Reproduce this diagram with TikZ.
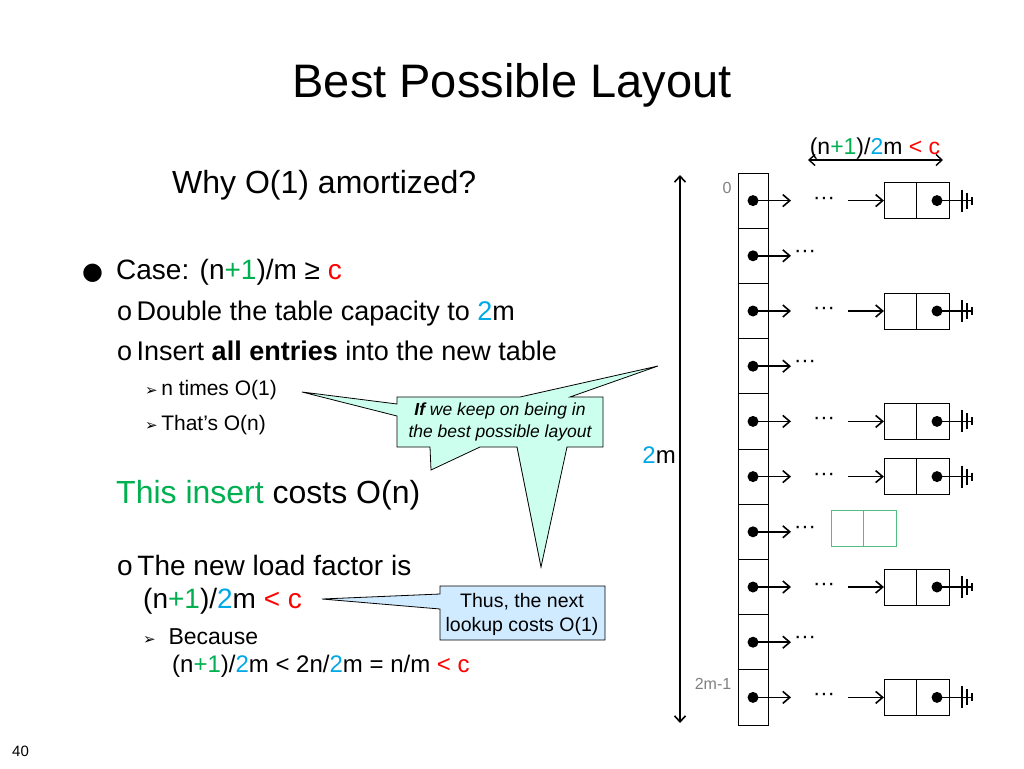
\documentclass[tikz,border=0pt]{standalone}
\usepackage{fontspec}
\setmainfont{Liberation Sans}
\newfontfamily\symf{DejaVu Sans}
\usetikzlibrary{arrows.meta}
\definecolor{cgreen}{RGB}{0,176,80}
\definecolor{cblue}{RGB}{0,168,230}
\definecolor{cred}{RGB}{255,0,0}
\definecolor{callA}{RGB}{204,255,238}
\definecolor{callB}{RGB}{208,234,255}
\definecolor{nodegreen}{RGB}{80,190,130}
\newcommand{\arrbul}{{\symf\fontsize{15}{18}\selectfont ➢}}
\newcommand{\mydots}{{\fontsize{22}{24}\selectfont\textperiodcentered\textperiodcentered\textperiodcentered}}
\tikzset{
  txt/.style={anchor=base west,inner sep=0pt},
  cell/.style={draw,line width=0.7pt,minimum width=30pt,minimum height=55.2pt,inner sep=0pt},
  ptr/.style={-{Straight Barb[length=7pt,width=12pt]},line width=1.6pt},
  dotc/.style={circle,fill,inner sep=0pt,minimum size=11pt},
  lbox/.style={draw,line width=0.7pt,minimum width=32.5pt,minimum height=36pt,inner sep=0pt},
  callout/.style={draw,line width=0.8pt},
  gray label/.style={text=gray,font=\fontsize{16}{18}\selectfont,inner sep=0pt}
}
\begin{document}
\begin{tikzpicture}[x=1pt,y=-1pt]
\useasboundingbox (0,0) rectangle (1024,768);
% title
\node[anchor=base,inner sep=0pt,font=\fontsize{47}{52}\selectfont] (title) at (512,97) {Best Possible Layout};
% left text
\node[txt,font=\fontsize{32}{36}\selectfont] (why) at (172,193) {Why O(1) amortized?};
\node[txt,font=\fontsize{28}{32}\selectfont] (b1) at (82,279) {{\symf\fontsize{24}{26}\selectfont ●}};
\node[txt,font=\fontsize{28}{32}\selectfont] (case) at (116,279) {Case: (n\textcolor{cgreen}{+1})/m ≥ \textcolor{cred}{c}};
\node[txt,font=\fontsize{27}{30}\selectfont] (d1) at (117,320) {o\,Double the table capacity to \textcolor{cblue}{2}m};
\node[txt,font=\fontsize{27}{30}\selectfont] (d2) at (117,360) {o\,Insert \textbf{all entries} into the new table};
\node[txt,font=\fontsize{21}{24}\selectfont] (e1) at (145,395) {\arrbul\,n times O(1)};
\node[txt,font=\fontsize{21}{24}\selectfont] (e2) at (145,430) {\arrbul\,That’s O(n)};
\node[txt,font=\fontsize{32}{36}\selectfont] (ins) at (116,503) {\textcolor{cgreen}{This insert} costs O(n)};
\node[txt,font=\fontsize{28}{32}\selectfont] (f1) at (117,575) {o\,The new load factor is};
\node[txt,font=\fontsize{28}{32}\selectfont] (f2) at (143,608) {(n\textcolor{cgreen}{+1})/\textcolor{cblue}{2}m \textcolor{cred}{< c}};
\node[txt,font=\fontsize{23}{26}\selectfont] (g1) at (143,644) {\arrbul\ \ Because};
\node[txt,font=\fontsize{24}{28}\selectfont] (g2) at (172,672) {(n\textcolor{cgreen}{+1})/\textcolor{cblue}{2}m < 2n/\textcolor{cblue}{2}m = n/m \textcolor{cred}{< c}};
\node[txt,font=\fontsize{15}{17}\selectfont] (pg) at (12,756) {40};
% callout 1
\draw[callout,fill=callA] (397,397) -- (520,397) -- (658,366) -- (570,397) -- (603,397) -- (603,447)
  -- (567,447) -- (541,567) -- (517,447) -- (480,447) -- (431,470) -- (430,447) -- (397,447)
  -- (397,416) -- (302,392) -- (397,404) -- cycle;
\node[align=center,font=\fontsize{17.5}{22}\selectfont\itshape,inner sep=0pt] (c1) at (500,422) {\textbf{If} we keep on being in\\the best possible layout};
% callout 2
\draw[callout,fill=callB] (440,586) -- (605,586) -- (605,640) -- (440,640) -- (440,609) -- (322,599) -- (440,594) -- cycle;
\node[align=center,font=\fontsize{19.5}{24}\selectfont,inner sep=0pt] (c2) at (522,614) {Thus, the next\\lookup costs O(1)};
% vertical arrow
\coordinate (vt) at (680,175);
\coordinate (vb) at (680,723);
\draw[{Straight Barb[length=6pt,width=11pt]}-{Straight Barb[length=6pt,width=11pt]},line width=1.6pt] (vt) -- (vb);
\node[anchor=base east,inner sep=0pt,font=\fontsize{24}{28}\selectfont] (twom) at (676,463) {\textcolor{cblue}{2}m};
% top arrow
\coordinate (ta) at (808,160);
\coordinate (tb) at (943,160);
\draw[{Straight Barb[length=6pt,width=11pt]}-{Straight Barb[length=6pt,width=11pt]},line width=1.4pt] (ta) -- (tb);
\node[anchor=base,inner sep=0pt,font=\fontsize{23}{26}\selectfont] (tl) at (875,154) {(n\textcolor{cgreen}{+1})/\textcolor{cblue}{2}m \textcolor{cred}{< c}};
\node[gray label] (l0) at (727,188) {0};
\node[gray label] (l1) at (713,684) {2m-1};
% table
\foreach \i in {0,...,9}{
  \pgfmathsetmacro{\yy}{200.6+55.2*\i}
  \node[cell] (cell\i) at (753,\yy) {};
  \node[dotc] (d\i) at (753,\yy) {};
  \coordinate (a\i) at (791,\yy);
  \draw[ptr] (d\i.center) -- (a\i);
}
% rows with list nodes
\foreach \i in {0,2,4,5,7,9}{
  \pgfmathsetmacro{\yy}{200.6+55.2*\i}
  \node[inner sep=0pt] (dd\i) at (824,\yy) {\mydots};
  \coordinate (s\i) at (848,\yy);
  \node[lbox] (na\i) at (900.5,\yy) {};
  \node[lbox] (nb\i) at (933,\yy) {};
  \draw[ptr] (s\i) -- (na\i.west);
  \node[dotc] (nd\i) at (937,\yy) {};
  \coordinate (g\i) at (973,\yy);
  \draw[line width=1.6pt] (nd\i.center) -- (g\i);
  \draw[line width=1.6pt] (962,\yy-11) -- (962,\yy+11);
  \draw[line width=1.6pt] (967,\yy-8) -- (967,\yy+8);
  \draw[line width=1.6pt] (972,\yy-4) -- (972,\yy+4);
}
\foreach \i in {1,3,6,8}{
  \pgfmathsetmacro{\yy}{200.6+55.2*\i}
  \node[inner sep=0pt] (dd\i) at (805,\yy-2) {\mydots};
}
% green empty node
\node[lbox,draw=nodegreen,line width=1pt] (ga) at (847.5,528) {};
\node[lbox,draw=nodegreen,line width=1pt] (gb) at (880,528) {};
\end{tikzpicture}
\end{document}
